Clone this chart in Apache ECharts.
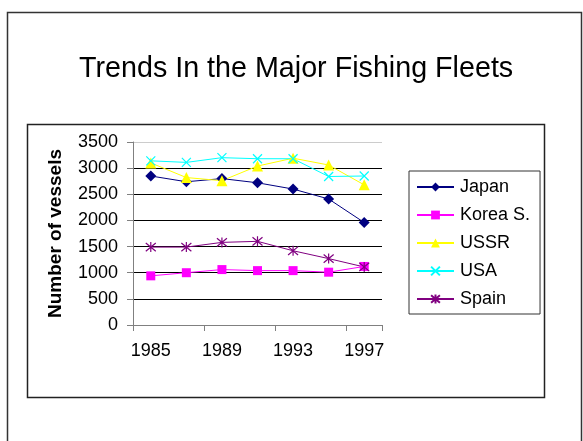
<!DOCTYPE html>
<html>
<head>
<meta charset="utf-8">
<script src="https://cdn.jsdelivr.net/npm/echarts@6/dist/echarts.min.js"></script>
<style>
  html, body { margin: 0; padding: 0; background: #fff; }
  #chart { width: 583px; height: 441px; }
</style>
</head>
<body>
<div id="chart"></div>
<script>
// Fleet sizes (number of vessels), every two years
const years = ['1985', '1987', '1989', '1991', '1993', '1995', '1997'];
const japan = [2850, 2740, 2800, 2720, 2600, 2410, 1960];
const koreaS = [940, 1000, 1060, 1040, 1040, 1010, 1120];
const ussr = [3100, 2820, 2760, 3040, 3190, 3060, 2680];
const usa = [3140, 3110, 3200, 3180, 3180, 2840, 2850];
const spain = [1490, 1490, 1580, 1600, 1420, 1270, 1110];

const FONT = 'Liberation Sans, Arial, sans-serif';

// Stroke-only marker shapes
const crossPath = 'path://M0,0L10,10M10,0L0,10';
const starPath = 'path://M0,0L10,10M10,0L0,10M5,-1L5,11';

function lineSeries(name, data, color, symbol, size, strokeOnly) {
  return {
    name: name,
    type: 'line',
    data: data,
    symbol: symbol,
    symbolSize: size,
    showAllSymbol: true,
    lineStyle: { color: color, width: 1 },
    itemStyle: strokeOnly
      ? { color: 'rgba(0,0,0,0)', borderColor: color, borderWidth: 1.2 }
      : { color: color, borderWidth: 0 },
    emphasis: { disabled: true },
    animation: false
  };
}

const chart = echarts.init(document.getElementById('chart'), null, { renderer: 'canvas' });
chart.setOption({
  backgroundColor: '#fff',
  animation: false,
  title: {
    text: 'Trends In the Major Fishing Fleets',
    left: 74,
    top: 50,
    textStyle: { fontFamily: FONT, fontSize: 28.7, fontWeight: 'normal', color: '#000' }
  },
  graphic: [
    { type: 'rect', shape: { x: 7.5, y: 12.5, width: 574, height: 440 },
      style: { fill: null, stroke: '#333', lineWidth: 1.5 }, z: 0 },
    { type: 'rect', shape: { x: 27.5, y: 124.5, width: 517, height: 273 },
      style: { fill: null, stroke: '#222', lineWidth: 1.5 }, z: 0 }
  ],
  legend: {
    left: 409,
    top: 171,
    orient: 'vertical',
    padding: [7, 10, 6, 7],
    itemWidth: 37,
    itemHeight: 11,
    itemGap: 10,
    borderColor: '#333',
    borderWidth: 1,
    textStyle: { fontFamily: FONT, fontSize: 18, color: '#000', padding: [0, 0, 0, 1] },
    data: ['Japan', 'Korea S.', 'USSR', 'USA', 'Spain']
  },
  grid: { left: 133, right: 201, top: 142, bottom: 116, containLabel: false },
  xAxis: {
    type: 'category',
    data: years,
    boundaryGap: true,
    axisLine: { lineStyle: { color: '#808080', width: 1 } },
    axisTick: { show: true, length: 6, lineStyle: { color: '#808080' } },
    axisLabel: { interval: 1, margin: 17, fontFamily: FONT, fontSize: 18, color: '#000' },
    splitLine: { show: false }
  },
  yAxis: {
    type: 'value',
    min: 0,
    max: 3500,
    interval: 500,
    name: 'Number of vessels',
    nameLocation: 'middle',
    nameRotate: 90,
    nameGap: 68,
    nameTextStyle: { fontFamily: FONT, fontSize: 19, fontWeight: 'bold', color: '#000' },
    axisLine: { show: true, lineStyle: { color: '#808080', width: 1 } },
    axisTick: { show: true, length: 6, lineStyle: { color: '#808080' } },
    axisLabel: {
      margin: 15, fontFamily: FONT, fontSize: 18, color: '#000',
      formatter: function (v) { return String(v); }
    },
    splitLine: {
      show: true,
      lineStyle: { color: ['#000', '#000', '#000', '#000', '#000', '#000', '#000', '#ccc'], width: 1 }
    }
  },
  series: [
    lineSeries('Japan', japan, '#000080', 'diamond', 11, false),
    lineSeries('Korea S.', koreaS, '#FF00FF', 'rect', 9, false),
    lineSeries('USSR', ussr, '#FFFF00', 'triangle', 11, false),
    lineSeries('USA', usa, '#00FFFF', crossPath, 9, true),
    lineSeries('Spain', spain, '#800080', starPath, 10, true)
  ]
});
</script>
</body>
</html>
